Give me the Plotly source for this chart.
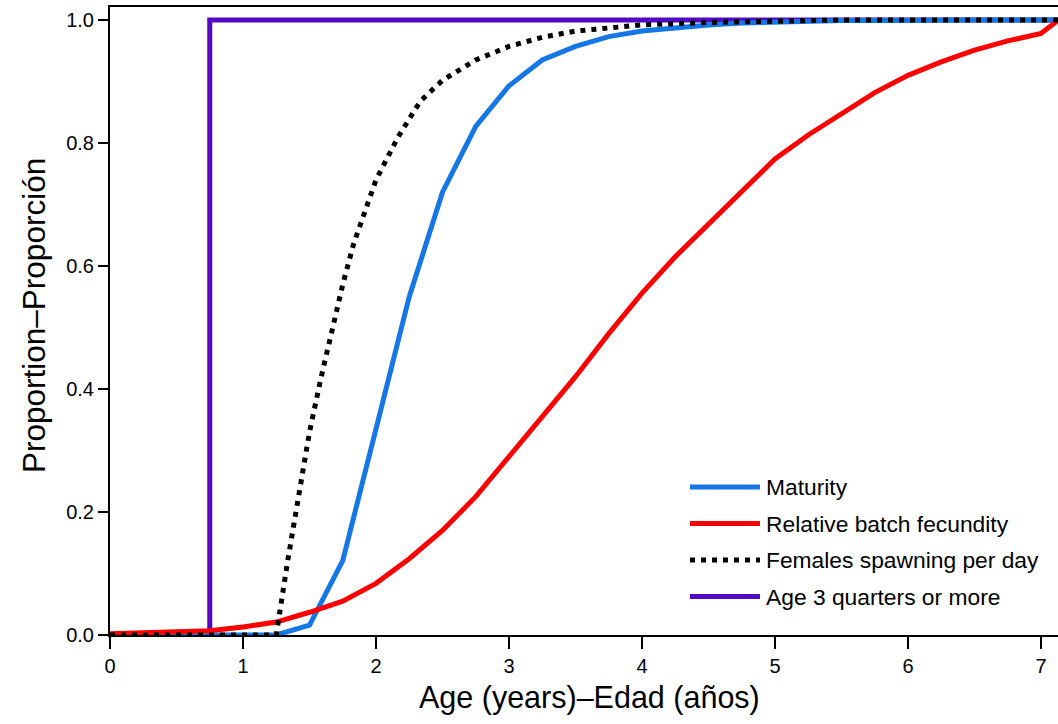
import plotly.graph_objects as go

# Age in years (quarterly steps)
ages = [0, 0.25, 0.5, 0.75, 1.0, 1.25, 1.5, 1.75, 2.0, 2.25, 2.5, 2.75, 3.0,
        3.25, 3.5, 3.75, 4.0, 4.25, 4.5, 4.75, 5.0, 5.25, 5.5, 5.75, 6.0,
        6.25, 6.5, 6.75, 7.0, 7.25]

maturity = [0, 0, 0, 0, 0, 0, 0.016, 0.121, 0.335, 0.55, 0.72, 0.827, 0.893,
            0.935, 0.957, 0.973, 0.982, 0.988, 0.992, 0.995, 0.997, 0.998,
            0.999, 0.999, 1.0, 1.0, 1.0, 1.0, 1.0, 1.0]

batch_fecundity = [0.002, 0.004, 0.005, 0.007, 0.013, 0.021, 0.037, 0.055,
                   0.084, 0.124, 0.17, 0.225, 0.29, 0.355, 0.42, 0.49, 0.556,
                   0.615, 0.668, 0.723, 0.774, 0.813, 0.848, 0.882, 0.91,
                   0.932, 0.951, 0.966, 0.978, 1.02]

# Spawning fraction is tabulated on a finer (monthly) grid around the rise
spawn_ages = [0, 1.25, 1.3333, 1.4167, 1.5, 1.5833, 1.6667, 1.75, 1.8333,
              1.9167, 2.0, 2.1667, 2.3333, 2.5, 2.75, 3.0, 3.25, 3.5, 3.75,
              4.0, 4.5, 5.0, 5.5, 7.25]
spawning = [0, 0, 0.117, 0.22, 0.33, 0.415, 0.495, 0.57, 0.637, 0.69, 0.74,
            0.81, 0.868, 0.902, 0.935, 0.957, 0.972, 0.982, 0.988, 0.992,
            0.996, 0.999, 1.0, 1.0]

# Knife-edge selector: age 3 quarters or more
age3q_ages = [0, 0.75, 0.75, 7.25]
age3q = [0, 0, 1, 1]

x_ticks = [0, 1, 2, 3, 4, 5, 6, 7]
y_ticks = [0.0, 0.2, 0.4, 0.6, 0.8, 1.0]

names = ["Maturity", "Relative batch fecundity", "Females spawning per day",
         "Age 3 quarters or more"]
colors = ["#1577E6", "#FF0000", "#000000", "#5208C4"]
dashes = ["solid", "solid", "5px,6px", "solid"]

FONT = "Liberation Sans, Arial, Helvetica, sans-serif"
W, H = 1058, 724
L, T, B = 110, 7, 89
plot_w = W - L
plot_h = H - T - B
px_per_year = 133.0
px_per_unit = 615.0

fig = go.Figure()

series = [
    (age3q_ages, age3q, 3),
    (ages, maturity, 0),
    (ages, batch_fecundity, 1),
    (spawn_ages, spawning, 2),
]
for xs, ys, k in series:
    fig.add_trace(go.Scatter(
        x=xs, y=ys, mode="lines", name=names[k], showlegend=False,
        line=dict(color=colors[k], width=5, dash=dashes[k]),
        hoverinfo="skip",
    ))


def px_x(px):
    return (px - L) / plot_w


def px_y(py):
    return (T + plot_h - py) / plot_h


# Legend drawn as line samples plus labels
shapes = []
annotations = []
for i, name in enumerate(names):
    yy = px_y(487 + 36.5 * i)
    shapes.append(dict(
        type="line", xref="paper", yref="paper",
        x0=px_x(690), x1=px_x(760), y0=yy, y1=yy,
        line=dict(color=colors[i], width=5, dash=dashes[i]),
    ))
    annotations.append(dict(
        text=name, xref="paper", yref="paper", x=px_x(764), y=yy,
        xanchor="left", yanchor="middle", showarrow=False,
        font=dict(family=FONT, size=22.8, color="#000000"),
    ))

annotations.append(dict(
    text="Age (years)\u2013Edad (años)", xref="paper", yref="paper",
    x=px_x(589), y=px_y(697), xanchor="center", yanchor="middle",
    showarrow=False, font=dict(family=FONT, size=30.5, color="#000000"),
))
annotations.append(dict(
    text="Proportion\u2013Proporción", xref="paper", yref="paper",
    x=px_x(34), y=px_y(316), xanchor="center", yanchor="middle",
    textangle=-90, showarrow=False,
    font=dict(family=FONT, size=31.5, color="#000000"),
))

fig.update_layout(
    width=W, height=H,
    margin=dict(l=L, r=0, t=T, b=B, pad=0),
    paper_bgcolor="white", plot_bgcolor="white",
    showlegend=False,
    font=dict(family=FONT, color="#000000"),
    shapes=shapes, annotations=annotations,
    xaxis=dict(
        range=[0, plot_w / px_per_year], tickvals=x_ticks,
        ticktext=[str(v) for v in x_ticks],
        ticks="outside", ticklen=12, tickwidth=2, tickcolor="#000000",
        showline=True, linewidth=2, linecolor="#000000", mirror=True,
        showgrid=False, zeroline=False,
        tickfont=dict(family=FONT, size=20, color="#000000"),
    ),
    yaxis=dict(
        range=[0, plot_h / px_per_unit], tickvals=y_ticks,
        ticktext=["%.1f" % v for v in y_ticks],
        ticks="outside", ticklen=10, tickwidth=2, tickcolor="#000000",
        showline=True, linewidth=2, linecolor="#000000", mirror=False,
        showgrid=False, zeroline=False,
        tickfont=dict(family=FONT, size=20, color="#000000"),
    ),
)

fig.write_html("out.html")
